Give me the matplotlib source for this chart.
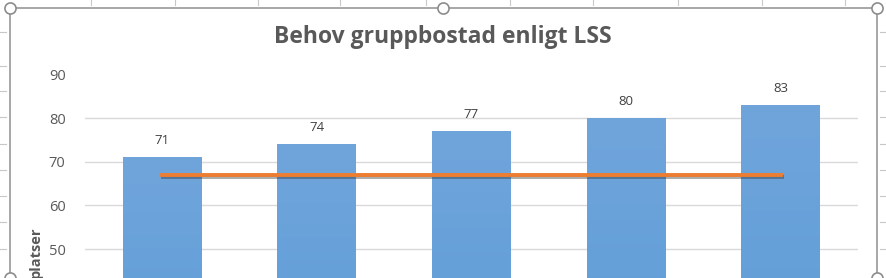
import matplotlib
matplotlib.use("Agg")
import matplotlib.pyplot as plt
import numpy as np
from matplotlib.lines import Line2D
import matplotlib.patheffects as pe
from matplotlib.colors import LinearSegmentedColormap

# ---- data ----
categories = ["1", "2", "3", "4", "5"]
behov = [71, 74, 77, 80, 83]
kapacitet = [67, 67, 67, 67, 67]
yticks = [50, 60, 70, 80, 90]
title = "Behov gruppbostad enligt LSS"
ylabel = "platser"

W, H = 887, 278
fig = plt.figure(figsize=(W / 100, H / 100), dpi=100)
fig.patch.set_facecolor("white")

def fx(x):
    return x / W

def fy(y):
    return 1 - y / H

FAM = ["Open Sans", "DejaVu Sans"]

# axes placement (pixel based)
left, right = 85, 858
top_px = 65.6
ax = fig.add_axes([fx(left), 0, fx(right) - fx(left), 1 - top_px / H])

for s in ax.spines.values():
    s.set_visible(False)

# gridlines (no line at the top value)
for t in yticks[:-1]:
    ax.axhline(t, color="#d9d9d9", lw=1.0, zorder=0)
ax.set_yticks(yticks)
ax.set_yticklabels([str(t) for t in yticks], fontsize=10.5, color="#595959", family=FAM)
ax.tick_params(axis="y", length=0, pad=14)
ax.set_xticks([])

x = np.arange(len(categories))
bars = ax.bar(x, behov, width=0.51, color="#5b9bd5", zorder=2)

# gradient fill in bars
grad = np.linspace(0, 1, 256).reshape(-1, 1)
cmap = LinearSegmentedColormap.from_list("g", ["#589ad6", "#70a5db"])
for b in bars:
    x0, w, h = b.get_x(), b.get_width(), b.get_height()
    im = ax.imshow(grad, extent=(x0, x0 + w, 0, h), origin="lower",
                   cmap=cmap, aspect="auto", zorder=2.1)
    im.set_clip_path(b)
ax.set_xlim(-0.5, len(categories) - 0.5)
ax.set_ylim(43.36, 92)

for xi, v in zip(x, behov):
    ax.annotate(str(v), (xi, v), xytext=(0, 12), textcoords="offset points",
                ha="center", va="center", fontsize=9.5, color="#404040",
                family=FAM, zorder=5)

ax.plot(x, kapacitet, color="#ed7d31", lw=2.8, zorder=4, solid_capstyle="projecting",
        path_effects=[pe.SimpleLineShadow(offset=(0.6, -1.3), shadow_color="#303030", alpha=0.4),
                      pe.Normal()])

# title and axis label
fig.text(fx(443), fy(37), title, ha="center", va="center", fontsize=16.5,
         fontweight="bold", color="#595959", family=FAM)
fig.text(fx(36), fy(252), ylabel, ha="center", va="center", rotation=90,
         fontsize=10.5, fontweight="bold", color="#595959", family=FAM)

# Excel sheet grid marks outside the chart
gc = "#c8c8c8"
for xx in [91, 175, 258, 340, 426, 510, 593, 678, 762, 845]:
    fig.add_artist(Line2D([fx(xx), fx(xx)], [fy(0), fy(5)], color=gc, lw=0.8))
for yy in [32, 66, 91, 117, 144, 170, 196, 222, 249]:
    fig.add_artist(Line2D([fx(0), fx(6)], [fy(yy), fy(yy)], color=gc, lw=0.8))
    fig.add_artist(Line2D([fx(880), fx(887)], [fy(yy), fy(yy)], color=gc, lw=0.8))

# chart frame with selection handles
fc = "#a0a0a0"
fig.add_artist(Line2D([fx(10), fx(877)], [fy(8), fy(8)], color=fc, lw=1.3))
fig.add_artist(Line2D([fx(10), fx(10)], [fy(8), fy(278)], color=fc, lw=1.3))
fig.add_artist(Line2D([fx(877), fx(877)], [fy(8), fy(278)], color=fc, lw=1.3))
for (cx, cy) in [(10, 8), (443, 8), (877, 8), (10, 278), (877, 278)]:
    fig.add_artist(Line2D([fx(cx)], [fy(cy)], marker="o", markersize=8,
                          markerfacecolor="white", markeredgecolor="#8c8c8c",
                          markeredgewidth=1.2, linestyle="none"))

fig.savefig("out.png", dpi=100)
